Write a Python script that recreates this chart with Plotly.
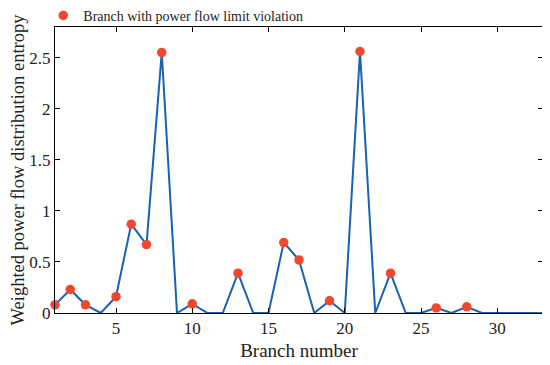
import plotly.graph_objects as go

branch = list(range(1, 34))
entropy = [0.08, 0.23, 0.08, 0.0, 0.16, 0.87, 0.67, 2.55, 0.0, 0.09,
           0.0, 0.0, 0.39, 0.0, 0.0, 0.69, 0.52, 0.0, 0.12, 0.0,
           2.56, 0.0, 0.39, 0.0, 0.0, 0.05, 0.0, 0.06, 0.0, 0.0,
           0.0, 0.0, 0.0]
violation_branches = [1, 2, 3, 5, 6, 7, 8, 10, 13, 16, 17, 19, 21, 23, 26, 28]
violation_values = [entropy[b - 1] for b in violation_branches]

font_family = "Liberation Serif"

fig = go.Figure()
fig.add_trace(go.Scatter(x=branch, y=entropy, mode="lines",
                         line=dict(color="#1763b0", width=2),
                         showlegend=False, hoverinfo="skip", cliponaxis=False))
fig.add_trace(go.Scatter(x=violation_branches, y=violation_values, mode="markers",
                         marker=dict(color="#f2462d", size=9.5),
                         name="Branch with power flow limit violation", cliponaxis=False))

axis_common = dict(showline=True, linecolor="black", linewidth=1, mirror="ticks",
                   ticks="inside", ticklen=5, tickcolor="black", showgrid=False,
                   zeroline=False, automargin=False,
                   tickfont=dict(size=17, color="#222", family=font_family))

fig.update_layout(
    width=550, height=365,
    margin=dict(l=47, r=15, t=19, b=60, autoexpand=False),
    paper_bgcolor="white", plot_bgcolor="white",
    font=dict(family=font_family, color="#222"),
    xaxis=dict(range=[1, 33], tickvals=[5, 10, 15, 20, 25, 30],
               title=dict(text="Branch number", font=dict(size=19, family=font_family), standoff=6),
               **axis_common),
    yaxis=dict(range=[0, 2.8], tickvals=[0, 0.5, 1, 1.5, 2, 2.5],
               ticktext=["0", "0.5", "1", "1.5", "2", "2.5"],
               title=dict(text="Weighted power flow distribution entropy",
                          font=dict(size=18.5, family=font_family), standoff=2),
               **axis_common),
    legend=dict(x=-0.024, y=1.039, xanchor="left", yanchor="middle",
                font=dict(size=14, family=font_family), bgcolor="rgba(0,0,0,0)",
                itemwidth=30, tracegroupgap=0),
)

fig.write_html("out.html")
